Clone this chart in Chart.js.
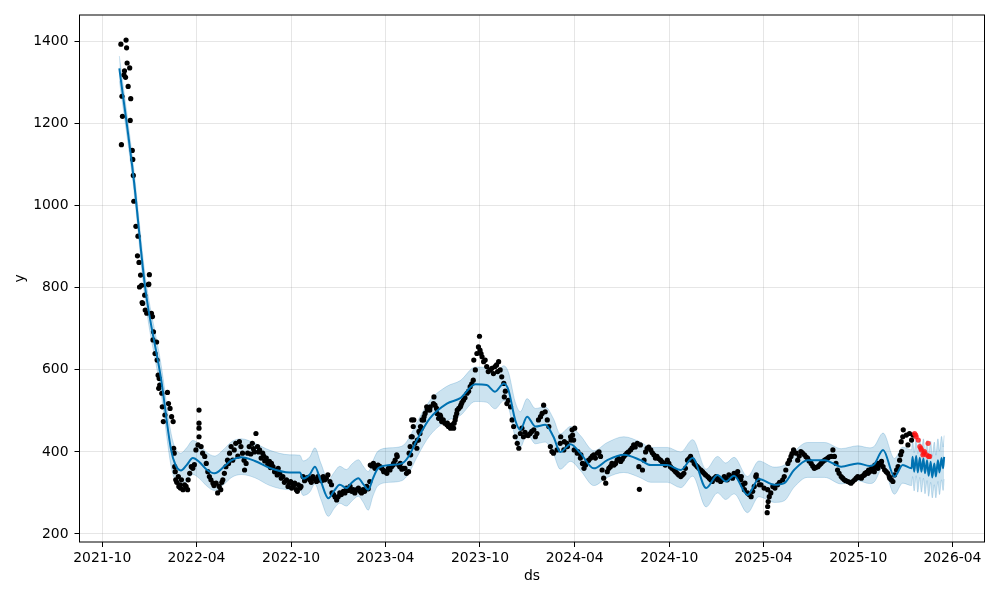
<!DOCTYPE html>
<html>
<head>
<meta charset="utf-8">
<title>forecast</title>
<script src="https://cdn.jsdelivr.net/npm/chart.js@4.4.0/dist/chart.umd.min.js"></script>
<style>
  body { margin: 0; background: #fff; }
</style>
</head>
<body>
<canvas id="myChart" width="1000" height="600"></canvas>
<script>
// observed points (black)
const obsDates = [
  '2021-11-06','2021-11-07','2021-11-08','2021-11-09','2021-11-12','2021-11-13','2021-11-15','2021-11-16','2021-11-17','2021-11-18',
  '2021-11-20','2021-11-23','2021-11-24','2021-11-25','2021-11-28','2021-11-29','2021-11-30','2021-12-01','2021-12-05','2021-12-08',
  '2021-12-09','2021-12-11','2021-12-12','2021-12-14','2021-12-16','2021-12-17','2021-12-18','2021-12-22','2021-12-23','2021-12-26',
  '2021-12-29','2021-12-30','2021-12-31','2022-01-04','2022-01-06','2022-01-07','2022-01-08','2022-01-11','2022-01-14','2022-01-15',
  '2022-01-17','2022-01-18','2022-01-19','2022-01-20','2022-01-24','2022-01-25','2022-01-27','2022-01-30','2022-02-04','2022-02-06',
  '2022-02-09','2022-02-12','2022-02-15','2022-02-16','2022-02-17','2022-02-18','2022-02-19','2022-02-20','2022-02-25','2022-02-26',
  '2022-03-03','2022-03-06','2022-03-09','2022-03-15','2022-03-16','2022-03-19','2022-03-22','2022-03-28','2022-03-31','2022-04-04',
  '2022-04-06','2022-04-06','2022-04-06','2022-04-06','2022-04-10','2022-04-13','2022-04-17','2022-04-20','2022-04-23','2022-04-26',
  '2022-04-29','2022-05-03','2022-05-09','2022-05-12','2022-05-15','2022-05-22','2022-05-25','2022-05-28','2022-06-04','2022-06-07',
  '2022-06-10','2022-06-13','2022-06-16','2022-06-20','2022-06-23','2022-06-26','2022-06-29','2022-07-02','2022-07-03','2022-07-06',
  '2022-07-09','2022-07-12','2022-07-15','2022-07-18','2022-07-22','2022-07-25','2022-07-28','2022-08-01','2022-08-04','2022-08-07',
  '2022-08-11','2022-08-14','2022-08-17','2022-08-20','2022-08-24','2022-08-27','2022-08-30','2022-09-02','2022-09-06','2022-09-09',
  '2022-09-12','2022-09-15','2022-09-18','2022-09-22','2022-09-28','2022-09-30','2022-10-05','2022-10-06','2022-10-11','2022-10-15',
  '2022-10-18','2022-10-20','2022-10-24','2022-10-30','2022-11-06','2022-11-12','2022-11-19','2022-11-25','2022-12-02','2022-12-08',
  '2022-12-15','2022-12-18','2022-12-19','2022-12-28','2022-12-31','2023-01-03','2023-01-10','2023-01-16','2023-01-23','2023-01-29',
  '2023-02-05','2023-02-11','2023-02-17','2023-02-24','2023-03-02','2023-03-03','2023-03-09','2023-03-15','2023-03-22','2023-03-28',
  '2023-03-29','2023-04-04','2023-04-10','2023-04-16','2023-04-17','2023-04-23','2023-04-24','2023-04-29','2023-04-30','2023-05-06',
  '2023-05-09','2023-05-12','2023-05-16','2023-05-17','2023-05-18','2023-05-19','2023-05-20','2023-05-21','2023-05-22','2023-05-23',
  '2023-05-25','2023-05-26','2023-05-28','2023-06-01','2023-06-02','2023-06-04','2023-06-05','2023-06-07','2023-06-08','2023-06-10',
  '2023-06-11','2023-06-14','2023-06-15','2023-06-17','2023-06-20','2023-06-21','2023-06-26','2023-06-27','2023-07-03','2023-07-04',
  '2023-07-06','2023-07-09','2023-07-10','2023-07-16','2023-07-17','2023-07-22','2023-07-29','2023-07-30','2023-08-04','2023-08-05',
  '2023-08-11','2023-08-12','2023-08-14','2023-08-15','2023-08-17','2023-08-18','2023-08-24','2023-08-25','2023-08-30','2023-09-06',
  '2023-09-12','2023-09-18','2023-09-19','2023-09-22','2023-09-25','2023-09-28','2023-09-30','2023-10-01','2023-10-05','2023-10-11',
  '2023-10-14','2023-10-21','2023-10-27','2023-10-30','2023-11-06','2023-11-09','2023-11-12','2023-11-16','2023-11-17','2023-11-22',
  '2023-11-25','2023-11-29','2023-12-02','2023-12-05','2023-12-08','2023-12-12','2023-12-15','2023-12-18','2023-12-21','2023-12-24',
  '2023-12-31','2024-01-06','2024-01-13','2024-01-16','2024-01-19','2024-01-22','2024-01-26','2024-01-29','2024-02-01','2024-02-04',
  '2024-02-08','2024-02-11','2024-02-14','2024-02-17','2024-02-20','2024-02-27','2024-03-04','2024-03-05','2024-03-11','2024-03-12',
  '2024-03-17','2024-03-18','2024-03-24','2024-03-25','2024-03-27','2024-03-28','2024-03-30','2024-03-31','2024-04-01','2024-04-06',
  '2024-04-07','2024-04-12','2024-04-13','2024-04-16','2024-04-19','2024-04-25','2024-05-02','2024-05-08','2024-05-15','2024-05-21',
  '2024-05-24','2024-05-27','2024-05-31','2024-06-03','2024-06-09','2024-06-16','2024-06-22','2024-06-29','2024-07-05','2024-07-11',
  '2024-07-18','2024-07-24','2024-07-31','2024-08-03','2024-08-04','2024-08-06','2024-08-10','2024-08-13','2024-08-19','2024-08-26',
  '2024-09-01','2024-09-07','2024-09-14','2024-09-20','2024-09-27','2024-10-03','2024-10-10','2024-10-16','2024-10-23','2024-10-29',
  '2024-11-05','2024-11-11','2024-11-18','2024-11-24','2024-12-01','2024-12-07','2024-12-14','2024-12-20','2024-12-27','2025-01-02',
  '2025-01-08','2025-01-15','2025-01-21','2025-01-28','2025-02-03','2025-02-10','2025-02-16','2025-02-17','2025-02-23','2025-02-24',
  '2025-03-01','2025-03-08','2025-03-14','2025-03-17','2025-03-18','2025-03-21','2025-03-24','2025-03-27','2025-04-02','2025-04-08',
  '2025-04-09','2025-04-09','2025-04-10','2025-04-12','2025-04-19','2025-04-28','2025-05-08','2025-05-14','2025-05-18','2025-05-24',
  '2025-05-29','2025-06-03','2025-06-06','2025-06-12','2025-06-19','2025-06-25','2025-07-02','2025-07-08','2025-07-15','2025-07-21',
  '2025-07-28','2025-08-03','2025-08-10','2025-08-13','2025-08-16','2025-08-22','2025-08-29','2025-09-04','2025-09-11','2025-09-17',
  '2025-09-24','2025-09-30','2025-10-07','2025-10-08','2025-10-13','2025-10-14','2025-10-20','2025-10-21','2025-10-26','2025-10-27',
  '2025-11-01','2025-11-02','2025-11-08','2025-11-09','2025-11-14','2025-11-15','2025-11-18','2025-11-21','2025-11-27','2025-12-04',
  '2025-12-07','2025-12-10','2025-12-14','2025-12-17','2025-12-20','2025-12-22','2025-12-23','2025-12-24','2025-12-26','2025-12-27',
  '2026-01-02','2026-01-05','2026-01-08','2026-01-12','2026-01-15',
  // more of the denser parts of the cloud
  '2022-02-22','2022-02-28','2022-03-01','2022-03-12','2022-03-25','2022-05-05','2022-05-18','2022-05-20','2022-05-31','2022-06-02',
  '2022-07-20','2022-07-30','2022-08-09','2022-08-22','2022-09-04','2022-09-25','2022-10-02','2022-10-08','2022-10-13','2022-10-27',
  '2022-11-03','2022-11-09','2022-11-15','2022-11-22','2022-11-29','2022-12-05','2022-12-11','2022-12-22','2022-12-25','2023-01-06',
  '2023-01-13','2023-01-19','2023-01-26','2023-02-01','2023-02-08','2023-02-14','2023-02-20','2023-02-27','2023-03-06','2023-03-12',
  '2023-03-18','2023-03-25','2023-04-01','2023-04-07','2023-04-13','2023-04-20','2023-04-27','2023-05-03','2023-07-13','2023-07-19',
  '2023-07-25','2023-08-01','2023-08-08','2023-08-21','2023-08-27','2023-09-02','2023-09-09','2023-09-15','2023-10-03','2023-10-08',
  '2023-10-17','2023-10-24','2023-11-02','2023-11-04','2023-11-19','2023-12-27','2024-01-02','2024-01-09','2024-04-22','2024-04-28',
  '2024-05-05','2024-05-11','2024-05-18','2024-06-06','2024-06-12','2024-06-19','2024-06-25','2024-07-02','2024-07-08','2024-07-14',
  '2024-07-21','2024-07-27','2024-08-16','2024-08-22','2024-08-29','2024-09-04','2024-09-10','2024-09-17','2024-09-23','2024-09-30',
  '2024-10-06','2024-10-13','2024-10-19','2024-10-26','2024-11-01','2024-11-08','2024-11-14','2024-11-21','2024-11-27','2024-12-04',
  '2024-12-10','2024-12-17','2024-12-23','2024-12-30','2025-01-05','2025-01-11','2025-01-18','2025-01-24','2025-01-31','2025-02-06',
  '2025-02-13','2025-02-20','2025-03-04','2025-03-11','2025-04-15','2025-04-23','2025-05-02','2025-05-11','2025-05-21','2025-05-26',
  '2025-06-09','2025-06-15','2025-06-22','2025-06-28','2025-07-05','2025-07-11','2025-07-18','2025-07-24','2025-07-31','2025-08-06',
  '2025-08-19','2025-08-25','2025-09-01','2025-09-07','2025-09-14','2025-09-20','2025-09-27','2025-10-03','2025-10-10','2025-10-17',
  '2025-10-23','2025-10-30','2025-11-05','2025-11-11','2025-11-24','2025-11-30','2025-12-01'
];
const obsValues = [
  1394,1149,1267,1218,1319,1329,1313,1404,1385,1348,
  1291,1336,1208,1261,1135,1113,1074,1011,950,878,
  926,862,802,831,806,764,762,782,746,738,
  808,809,832,738,730,673,693,640,668,624,
  587,555,579,563,543,510,474,490,545,518,
  506,486,474,409,397,364,352,332,340,316,
  332,308,320,308,332,348,364,369,405,417,
  502,470,458,437,413,397,389,372,352,340,
  332,324,324,300,316,332,348,364,397,413,
  380,405,421,390,425,413,397,380,356,372,
  397,413,395,421,400,445,413,405,385,397,
  378,385,370,377,372,364,352,356,360,348,
  336,340,326,332,324,328,316,320,308,320,
  312,316,340,336,332,340,328,332,340,336,
  328,320,300,283,291,300,304,312,316,308,
  308,304,308,316,328,368,372,364,364,356,
  352,348,356,368,372,393,389,364,372,360,
  360,348,352,397,372,413,393,437,478,437,
  462,478,421,409,429,429,450,445,462,458,
  478,478,486,494,510,502,502,510,518,534,
  514,506,494,490,486,478,466,470,462,458,
  458,470,478,486,494,502,510,514,526,543,
  559,575,624,600,640,656,682,648,632,624,
  608,600,591,608,620,600,583,567,534,518,
  526,510,478,462,437,421,409,445,458,437,
  441,445,454,437,445,478,486,494,514,498,
  478,462,413,401,397,405,421,437,405,425,
  421,413,437,429,454,441,429,405,458,397,
  401,385,393,372,360,377,385,393,397,389,
  356,336,324,352,364,368,380,377,389,397,
  405,417,421,364,309,417,356,380,409,405,
  393,389,380,372,380,364,356,348,340,348,
  380,389,372,364,356,348,340,332,336,332,
  328,340,332,340,348,352,332,340,308,324,
  300,291,316,340,344,332,320,320,312,252,
  308,267,279,291,316,320,332,356,372,389,
  405,397,380,401,393,385,372,360,364,372,
  380,385,389,405,389,356,340,332,328,324,
  332,340,336,340,344,348,348,356,356,360,
  352,368,360,372,372,377,364,356,348,332,
  328,344,356,364,380,393,425,401,437,454,
  441,417,445,429,441,
  // more of the denser parts of the cloud
  326,320,312,316,360,318,308,326,380,372,
  408,400,390,362,344,316,312,324,304,330,
  338,326,334,340,330,332,344,296,290,296,
  300,306,304,300,312,300,304,310,366,360,
  368,360,352,360,364,380,368,358,482,474,
  470,462,466,506,520,532,548,566,640,620,
  596,604,612,596,548,448,440,450,368,380,
  390,385,400,360,372,372,384,382,393,400,
  410,412,400,412,398,385,384,376,368,372,
  360,352,344,344,360,384,380,368,360,352,
  344,336,328,340,336,332,336,344,336,344,
  340,320,296,304,300,312,326,340,380,396,
  390,398,388,378,366,362,368,376,382,388,
  372,348,336,330,326,328,336,338,342,350,
  352,358,364,368,352,340,336
];

// later points (red)
const testDates = ['2026-01-18','2026-01-20','2026-01-21','2026-01-25','2026-01-28','2026-01-30','2026-01-31',
  '2026-02-03','2026-02-05','2026-02-06','2026-02-10','2026-02-13','2026-02-14','2026-02-16'];
const testValues = [445,441,437,429,413,409,405,393,397,401,393,421,389,389];

// fitted line + interval (history part)
const trendDates = [
  '2021-11-03','2021-11-30','2021-12-23','2022-01-23','2022-02-11','2022-02-19','2022-03-02','2022-03-13','2022-03-25','2022-04-07',
  '2022-04-20','2022-05-06','2022-05-25','2022-06-08','2022-06-27','2022-07-23','2022-08-21','2022-09-28','2022-10-18','2022-10-24',
  '2022-11-06','2022-11-16','2022-11-27','2022-12-12','2022-12-23','2023-01-03','2023-01-16','2023-01-26','2023-02-08','2023-02-17',
  '2023-02-27','2023-03-08','2023-03-18','2023-04-10','2023-05-03','2023-05-16','2023-06-01','2023-06-26','2023-07-29','2023-08-24',
  '2023-09-22','2023-10-14','2023-10-30','2023-11-16','2023-11-25','2023-12-08','2023-12-18','2023-12-31','2024-01-16','2024-02-04',
  '2024-02-20','2024-03-04','2024-03-24','2024-04-12','2024-05-08','2024-06-03','2024-07-05','2024-08-06','2024-08-26','2024-09-27',
  '2024-10-23','2024-11-15','2024-12-11','2025-01-02','2025-01-18','2025-02-03','2025-03-01','2025-03-23','2025-04-22','2025-05-11',
  '2025-05-30','2025-06-25','2025-07-28','2025-08-29','2025-09-30','2025-10-23','2025-11-01','2025-11-18','2025-12-10','2025-12-26',
  '2026-01-12'
];
const trendValues = [
  1335,1074,800,575,405,370,355,368,385,375,
  358,348,365,380,387,378,361,350,350,335,
  345,364,330,287,305,320,312,325,336,322,
  308,335,360,368,372,389,429,482,518,531,
  565,563,547,567,551,478,454,486,462,466,
  437,400,419,397,360,380,393,380,368,368,
  356,385,312,344,328,342,295,334,320,324,
  356,380,380,364,372,366,370,405,340,368,
  360
];
const trendUpper = [
  1365,1100,830,610,445,410,397,410,428,418,
  400,390,408,425,432,421,404,393,392,378,
  388,410,374,332,350,365,357,370,381,366,
  352,378,402,410,414,432,472,525,560,574,
  607,606,590,610,594,522,498,530,506,510,
  481,444,462,440,403,423,437,424,411,411,
  400,430,358,389,373,387,340,378,363,368,
  400,423,423,408,415,410,414,446,384,412,
  405
];
const trendLower = [
  1305,1050,770,540,365,330,316,327,345,335,
  318,306,322,338,345,337,318,308,308,294,
  302,322,286,243,262,275,268,280,292,278,
  258,292,318,326,330,347,387,440,476,489,
  523,521,505,525,509,436,412,444,420,424,
  395,358,377,355,318,338,350,337,326,326,
  313,341,266,300,284,298,252,291,277,281,
  314,338,338,322,330,323,327,362,297,324,
  318
];

// forecast part (weekly wiggle)
const fcDates = ['2026-01-14','2026-01-17','2026-01-21','2026-01-24','2026-01-28','2026-01-31','2026-02-04','2026-02-07',
  '2026-02-11','2026-02-14','2026-02-18','2026-02-21','2026-02-25','2026-02-28','2026-03-04','2026-03-07','2026-03-11',
  '2026-03-14','2026-03-16'];
const fcValues = [388,352,390,350,386,352,384,348,380,342,376,338,372,340,380,350,385,360,388];
const fcUpper  = [430,398,434,396,432,398,432,396,428,392,426,390,424,392,432,402,438,412,440];
const fcLower  = [340,305,342,302,338,302,336,298,330,292,326,288,320,288,328,296,332,306,334];

const xTickLabels = ['2021-10','2022-04','2022-10','2023-04','2023-10','2024-04','2024-10','2025-04','2025-10','2026-04'];
const yTicks = [200, 400, 600, 800, 1000, 1200, 1400];

function toPoints(dates, values) {
  return dates.map((d, i) => ({ x: Date.parse(d), y: values[i] }));
}

const lineDates = trendDates.concat(fcDates);
const blue = '#0072B2';
const bandColor = 'rgba(0, 114, 178, 0.2)';

// box round the plot area, like the matplotlib spines
const framePlugin = {
  id: 'frame',
  afterDraw(chart) {
    const { ctx, chartArea } = chart;
    ctx.save();
    ctx.strokeStyle = '#000';
    ctx.lineWidth = 1;
    ctx.strokeRect(chartArea.left, chartArea.top, chartArea.right - chartArea.left, chartArea.bottom - chartArea.top);
    ctx.restore();
  }
};

Chart.defaults.font.family = "'DejaVu Sans', sans-serif";
Chart.defaults.font.size = 13.9;
Chart.defaults.color = '#000';

const ctx = document.getElementById('myChart').getContext('2d');
const myChart = new Chart(ctx, {
  type: 'line',
  data: {
    datasets: [
      {
        label: 'test',
        data: toPoints(testDates, testValues),
        showLine: false,
        pointRadius: 2.6,
        pointBorderWidth: 0,
        pointBackgroundColor: 'rgba(255, 20, 20, 0.8)'
      },
      {
        label: 'yhat',
        data: toPoints(lineDates, trendValues.concat(fcValues)),
        borderColor: blue,
        borderWidth: 2,
        pointRadius: 0,
        cubicInterpolationMode: 'monotone',
        fill: false
      },
      {
        label: 'y',
        data: toPoints(obsDates, obsValues),
        showLine: false,
        pointRadius: 2.6,
        pointBorderWidth: 0,
        pointBackgroundColor: '#000'
      },
      {
        label: 'yhat_upper',
        data: toPoints(lineDates, trendUpper.concat(fcUpper)),
        borderColor: bandColor,
        borderWidth: 1,
        backgroundColor: bandColor,
        pointRadius: 0,
        cubicInterpolationMode: 'monotone',
        fill: '+1'
      },
      {
        label: 'yhat_lower',
        data: toPoints(lineDates, trendLower.concat(fcLower)),
        borderColor: bandColor,
        borderWidth: 1,
        pointRadius: 0,
        cubicInterpolationMode: 'monotone',
        fill: false
      }
    ]
  },
  options: {
    responsive: false,
    devicePixelRatio: 1,
    animation: false,
    layout: { padding: { left: 0, right: 15.5, top: 15, bottom: 0 } },
    plugins: {
      legend: { display: false },
      tooltip: { enabled: false }
    },
    scales: {
      x: {
        type: 'linear',
        min: Date.parse('2021-08-18'),
        max: Date.parse('2026-06-02'),
        afterBuildTicks: (scale) => {
          scale.ticks = xTickLabels.map(l => ({ value: Date.parse(l + '-01') }));
        },
        afterFit: (scale) => { scale.height = 58; },
        ticks: {
          autoSkip: false,
          maxRotation: 0,
          padding: 3,
          callback: (value, index) => xTickLabels[index]
        },
        grid: {
          color: 'rgba(128, 128, 128, 0.2)',
          lineWidth: 1,
          tickColor: '#000',
          tickLength: 5
        },
        border: { display: false },
        title: { display: true, text: 'ds', padding: { top: 0, bottom: 15 } }
      },
      y: {
        min: 180.5,
        max: 1465,
        afterBuildTicks: (scale) => {
          scale.ticks = yTicks.map(v => ({ value: v }));
        },
        afterFit: (scale) => { scale.width = 79.5; },
        ticks: {
          padding: 6,
          callback: (value) => String(value)
        },
        grid: {
          color: 'rgba(128, 128, 128, 0.2)',
          lineWidth: 1,
          tickColor: '#000',
          tickLength: 5
        },
        border: { display: false },
        title: { display: true, text: 'y', padding: { top: 12, bottom: 0 } }
      }
    }
  },
  plugins: [framePlugin]
});
</script>
</body>
</html>
